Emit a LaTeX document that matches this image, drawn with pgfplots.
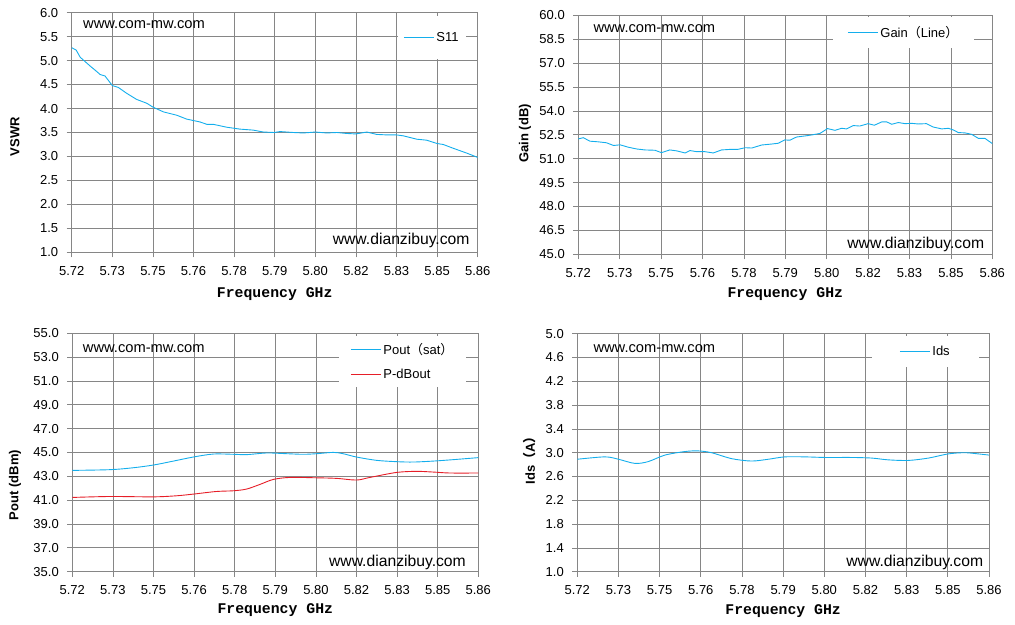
\documentclass[border=0pt]{standalone}
\usepackage{fontspec}
\setmainfont{Liberation Sans}
\newfontfamily\monob{Liberation Mono}
\newfontfamily\cjk{Noto Sans CJK SC}
\usepackage{pgfplots}
\pgfplotsset{compat=1.18}
\definecolor{lblue}{RGB}{20,174,236}
\definecolor{lred}{RGB}{230,30,40}
\definecolor{gridc}{RGB}{134,134,134}
\newcommand{\tk}{\fontsize{13}{15}\selectfont}
\pgfplotsset{
 myax/.style={scale only axis, anchor=north west,
  xmin=0, xmax=10, xtick={0,...,10},
  xticklabels={5.72,5.73,5.75,5.76,5.78,5.79,5.80,5.82,5.83,5.85,5.86},
  tick pos=left, tick align=outside, major tick length=5pt,
  grid=major, grid style={gridc, line width=0.8pt},
  axis line style={gridc, line width=0.8pt},
  tick style={gridc, line width=0.8pt},
  ticklabel style={font=\tk},
  /pgf/number format/assume math mode=true,
  yticklabel style={/pgf/number format/fixed, /pgf/number format/fixed zerofill, /pgf/number format/precision=1},
  xticklabel shift=5.5pt, yticklabel shift=5pt,
  xlabel={Frequency GHz},
  xlabel style={font=\monob\bfseries\fontsize{14.8}{16}\selectfont, at={(axis description cs:0.5,0)}, anchor=center, yshift=-40pt},
  ylabel style={font=\bfseries\fontsize{13}{15}\selectfont, anchor=center},
  legend style={font=\tk, fill=white, draw=none, anchor=north west, cells={anchor=west}},
  legend image code/.code={\draw[#1, line width=1.2pt] (0pt,0pt) -- (30pt,0pt);},
  every axis plot/.append style={line width=0.9pt},
 }
}
\newcommand{\wmA}{\fontsize{14.7}{16}\selectfont}
\newcommand{\wmB}{\fontsize{15.7}{17}\selectfont}
\begin{document}
\begin{tikzpicture}
\useasboundingbox (0pt,0pt) rectangle (1015pt,-624pt);
% ---------- VSWR
\begin{axis}[myax, at={(71.7pt,-12.7pt)}, width=406pt, height=239.6pt,
  ymin=1, ymax=6, ytick={1,1.5,...,6.01},
  ylabel={VSWR}, ylabel style={at={(axis description cs:0,0.4825)}, yshift=56.7pt},
  xlabel style={yshift=-2pt},
  legend style={at={(axis description cs:0.8037,0.9862)}, inner xsep=5pt, inner ysep=14pt}]
\addplot[lblue] coordinates {(0,5.27)(0.11,5.22)(0.21,5.07)(0.29,5.01)(0.45,4.89)(0.62,4.77)(0.70,4.71)(0.82,4.68)(1.00,4.48)(1.15,4.44)(1.35,4.32)(1.60,4.19)(1.85,4.11)(2.00,4.03)(2.26,3.93)(2.59,3.86)(2.83,3.78)(3.16,3.72)(3.33,3.67)(3.49,3.67)(3.82,3.61)(4.15,3.57)(4.47,3.55)(4.72,3.51)(4.99,3.50)(5.13,3.52)(5.46,3.50)(5.71,3.49)(6.00,3.51)(6.28,3.49)(6.53,3.50)(6.77,3.48)(7.00,3.47)(7.27,3.51)(7.51,3.46)(7.76,3.45)(8.00,3.45)(8.17,3.43)(8.50,3.36)(8.74,3.34)(9.00,3.27)(9.15,3.25)(9.40,3.17)(9.73,3.07)(10,2.98)};
\addlegendentry{S11}
\node[anchor=west, inner sep=0pt, font=\wmA, xshift=11.3pt, yshift=-12.3pt] at (rel axis cs:0,1) {www.com-mw.com};
\node[anchor=east, inner sep=0pt, font=\wmB, xshift=-8pt, yshift=11.6pt] at (rel axis cs:1,0) {www.dianzibuy.com};
\end{axis}
% ---------- Gain
\begin{axis}[myax, at={(578.3pt,-15.3pt)}, width=414pt, height=239pt,
  ymin=45, ymax=60, ytick={45,46.5,...,60.01},
  ylabel={Gain (dB)}, ylabel style={at={(axis description cs:0,0.506)}, yshift=53.3pt},
  legend style={at={(axis description cs:0.6152,0.9929)}, inner xsep=14pt, inner ysep=7pt}]
\addplot[lblue] coordinates {(0,52.24)(0.12,52.32)(0.28,52.10)(0.48,52.06)(0.68,52.00)(0.85,51.83)(1.01,51.87)(1.21,51.72)(1.41,51.61)(1.61,51.55)(1.85,51.53)(2.01,51.38)(2.21,51.55)(2.38,51.49)(2.58,51.36)(2.70,51.51)(2.86,51.44)(3.06,51.44)(3.26,51.36)(3.46,51.55)(3.70,51.59)(3.86,51.59)(4.03,51.69)(4.19,51.67)(4.43,51.86)(4.67,51.92)(4.83,51.97)(4.99,52.18)(5.11,52.16)(5.27,52.36)(5.48,52.43)(5.64,52.49)(5.84,52.59)(6.02,52.89)(6.20,52.78)(6.36,52.91)(6.48,52.87)(6.64,53.08)(6.80,53.05)(7.00,53.20)(7.15,53.10)(7.33,53.31)(7.45,53.31)(7.57,53.16)(7.73,53.27)(7.89,53.20)(8.05,53.22)(8.21,53.18)(8.41,53.20)(8.57,52.99)(8.78,52.87)(8.94,52.91)(9.06,52.80)(9.18,52.64)(9.34,52.62)(9.50,52.53)(9.66,52.28)(9.82,52.28)(10,51.95)};
\addlegendentry{Gain{\cjk （}Line{\cjk ）}}
\node[anchor=west, inner sep=0pt, font=\wmA, xshift=15pt, yshift=-13pt] at (rel axis cs:0,1) {www.com-mw.com};
\node[anchor=east, inner sep=0pt, font=\wmB, xshift=-8pt, yshift=10pt] at (rel axis cs:1,0) {www.dianzibuy.com};
\end{axis}
% ---------- Pout
\begin{axis}[myax, at={(72.3pt,-333.3pt)}, width=406pt, height=238.4pt,
  ymin=35, ymax=55, ytick={35,37,...,55},
  ylabel={Pout (dBm)}, ylabel style={at={(axis description cs:0,0.3637)}, yshift=57.3pt},
  xlabel style={yshift=1.5pt},
  legend style={at={(axis description cs:0.6569,0.9887)}, inner xsep=11pt, inner ysep=5pt, row sep=9.5pt}]
\addplot[lblue, smooth] coordinates {(0,43.50)(0.93,43.56)(1.50,43.72)(2.00,43.95)(2.49,44.28)(2.98,44.62)(3.47,44.87)(3.97,44.85)(4.29,44.82)(4.79,44.96)(5.28,44.90)(5.69,44.85)(6.02,44.90)(6.43,45.01)(6.67,44.90)(7.00,44.62)(7.50,44.34)(7.99,44.23)(8.40,44.20)(8.89,44.28)(9.38,44.40)(10,44.57)};
\addlegendentry{Pout{\cjk （}sat{\cjk ）}}
\addplot[lred, smooth] coordinates {(0,41.23)(0.93,41.31)(2.00,41.28)(2.57,41.37)(2.98,41.51)(3.55,41.73)(3.97,41.79)(4.29,41.93)(4.62,42.32)(4.95,42.74)(5.36,42.91)(5.99,42.88)(6.51,42.83)(7.00,42.69)(7.33,42.91)(7.99,43.33)(8.48,43.42)(8.89,43.36)(9.30,43.28)(10,43.28)};
\addlegendentry{P-dBout}
\node[anchor=west, inner sep=0pt, font=\wmA, xshift=10.4pt, yshift=-15pt] at (rel axis cs:0,1) {www.com-mw.com};
\node[anchor=east, inner sep=0pt, font=\wmB, xshift=-12.3pt, yshift=9.4pt] at (rel axis cs:1,0) {www.dianzibuy.com};
\end{axis}
% ---------- Ids
\begin{axis}[myax, at={(577.3pt,-333.7pt)}, width=411.7pt, height=238pt,
  ymin=1, ymax=5, ytick={1,1.4,...,5.01},
  ylabel={Ids{\cjk （}A{\cjk ）}}, ylabel style={at={(axis description cs:0,0.48)}, yshift=47.3pt},
  xlabel style={yshift=1pt},
  legend style={at={(axis description cs:0.7158,0.9903)}, inner xsep=27pt, inner ysep=8pt}]
\addplot[lblue, smooth] coordinates {(0,2.89)(0.67,2.93)(1.00,2.89)(1.40,2.82)(1.72,2.85)(2.13,2.96)(2.62,3.02)(2.94,3.03)(3.26,3.00)(3.75,2.90)(4.23,2.86)(4.64,2.89)(5.04,2.93)(5.53,2.93)(6.02,2.92)(6.66,2.92)(7.15,2.91)(7.55,2.88)(8.04,2.87)(8.53,2.91)(9.01,2.98)(9.41,3.00)(9.74,2.98)(10,2.96)};
\addlegendentry{Ids}
\node[anchor=west, inner sep=0pt, font=\wmA, xshift=16pt, yshift=-14.6pt] at (rel axis cs:0,1) {www.com-mw.com};
\node[anchor=east, inner sep=0pt, font=\wmB, xshift=-5.7pt, yshift=9.4pt] at (rel axis cs:1,0) {www.dianzibuy.com};
\end{axis}
\end{tikzpicture}
\end{document}
